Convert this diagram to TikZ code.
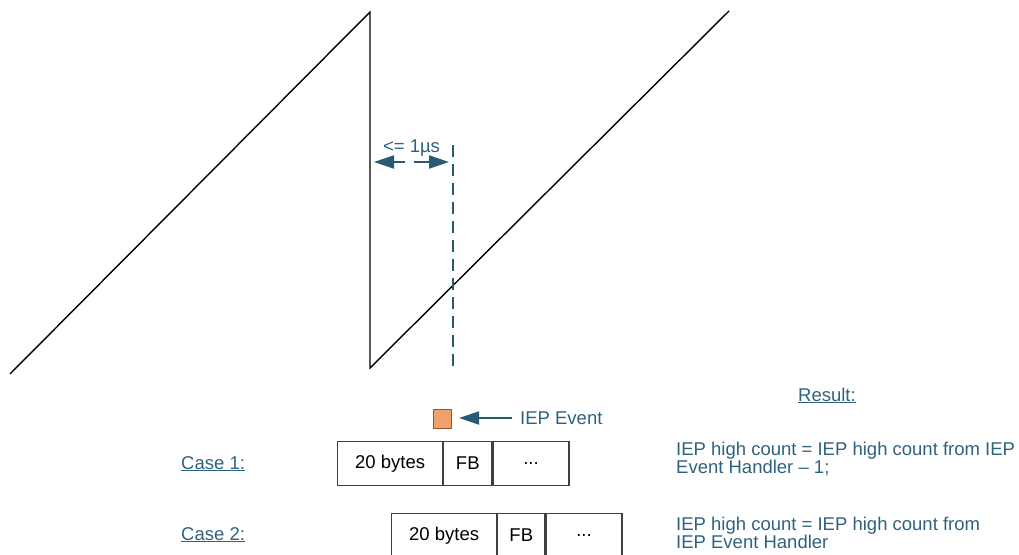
\documentclass[tikz,border=0pt]{standalone}
\usepackage{fontspec}
\setmainfont{Liberation Sans}
\usetikzlibrary{arrows.meta}
\definecolor{labelblue}{RGB}{47,98,125}
\definecolor{arrowblue}{RGB}{40,90,115}
\definecolor{eventfill}{RGB}{240,160,106}
\definecolor{eventdraw}{RGB}{150,85,45}
\definecolor{boxline}{RGB}{64,64,64}
\begin{document}
\begin{tikzpicture}[x=1pt,y=-1pt,
  wave/.style={line width=1.4pt, black, line join=miter},
  marker/.style={arrowblue, line width=1.5pt, dash pattern=on 12pt off 7pt},
  lbl/.style={text=labelblue, font=\fontsize{18.5}{18.5}\selectfont, inner sep=0pt},
  cell/.style={draw=boxline, line width=1.2pt, minimum height=44pt, inner sep=0pt,
    font=\fontsize{18.5}{18.5}\selectfont, text=black},
  pointer/.style={arrowblue, line width=2pt, -{Triangle[length=20pt,width=13pt]}},
]
\clip (0,0) rectangle (1019,554);

% sawtooth counter
\coordinate (s0) at (10,374);
\coordinate (p1) at (370,12);
\coordinate (b1) at (370,368);
\coordinate (p2) at (729,11);
\draw[wave] (s0) -- (p1) -- (b1) -- (p2);

% event time marker
\coordinate (dtop) at (453,145);
\coordinate (dbot) at (453,372);
\draw[marker] (dtop) -- (dbot);

% latency span
\coordinate (la) at (405,162);
\coordinate (lt) at (374,162);
\coordinate (ra) at (414,162);
\coordinate (rt) at (449,162);
\draw[pointer] (la) -- (lt);
\draw[pointer] (ra) -- (rt);
\node[lbl] (span) at (411.5,148) {<= 1µs};

% IEP event
\node[draw=eventdraw, fill=eventfill, line width=1.2pt, minimum width=18pt, minimum height=19.5pt, inner sep=0pt] (ev) at (442.5,419) {};
\coordinate (evtail) at (512,418);
\draw[pointer, shorten >=7pt] (evtail) -- (ev.east |- evtail);
\node[lbl, anchor=west] (evlbl) at (520,418) {IEP Event};

% headings
\node[lbl, anchor=base west] (res) at (798,401) {\underline{Result:}};
\node[lbl, anchor=base west] (case1) at (181,469) {\underline{Case 1:}};
\node[lbl, anchor=base west] (case2) at (181,540) {\underline{Case 2:}};

% case 1 frame
\node[cell, minimum width=105pt, anchor=north west] (c1a) at (337,441) {20 bytes};
\node[cell, minimum width=48pt, anchor=west] (c1b) at (c1a.east) {FB};
\node[cell, minimum width=76pt, anchor=west] (c1c) at (c1b.east) {...};

% case 2 frame
\node[cell, minimum width=105pt, anchor=north west] (c2a) at (391,513) {20 bytes};
\node[cell, minimum width=47pt, anchor=west] (c2b) at (c2a.east) {FB};
\node[cell, minimum width=76pt, anchor=west] (c2c) at (c2b.east) {...};

% results
\node[lbl, anchor=west, align=left] (r1) at (676,459) {IEP high count = IEP high count from IEP\\Event Handler – 1;};
\node[lbl, anchor=west, align=left] (r2) at (676,533) {IEP high count = IEP high count from\\IEP Event Handler};
\end{tikzpicture}
\end{document}
